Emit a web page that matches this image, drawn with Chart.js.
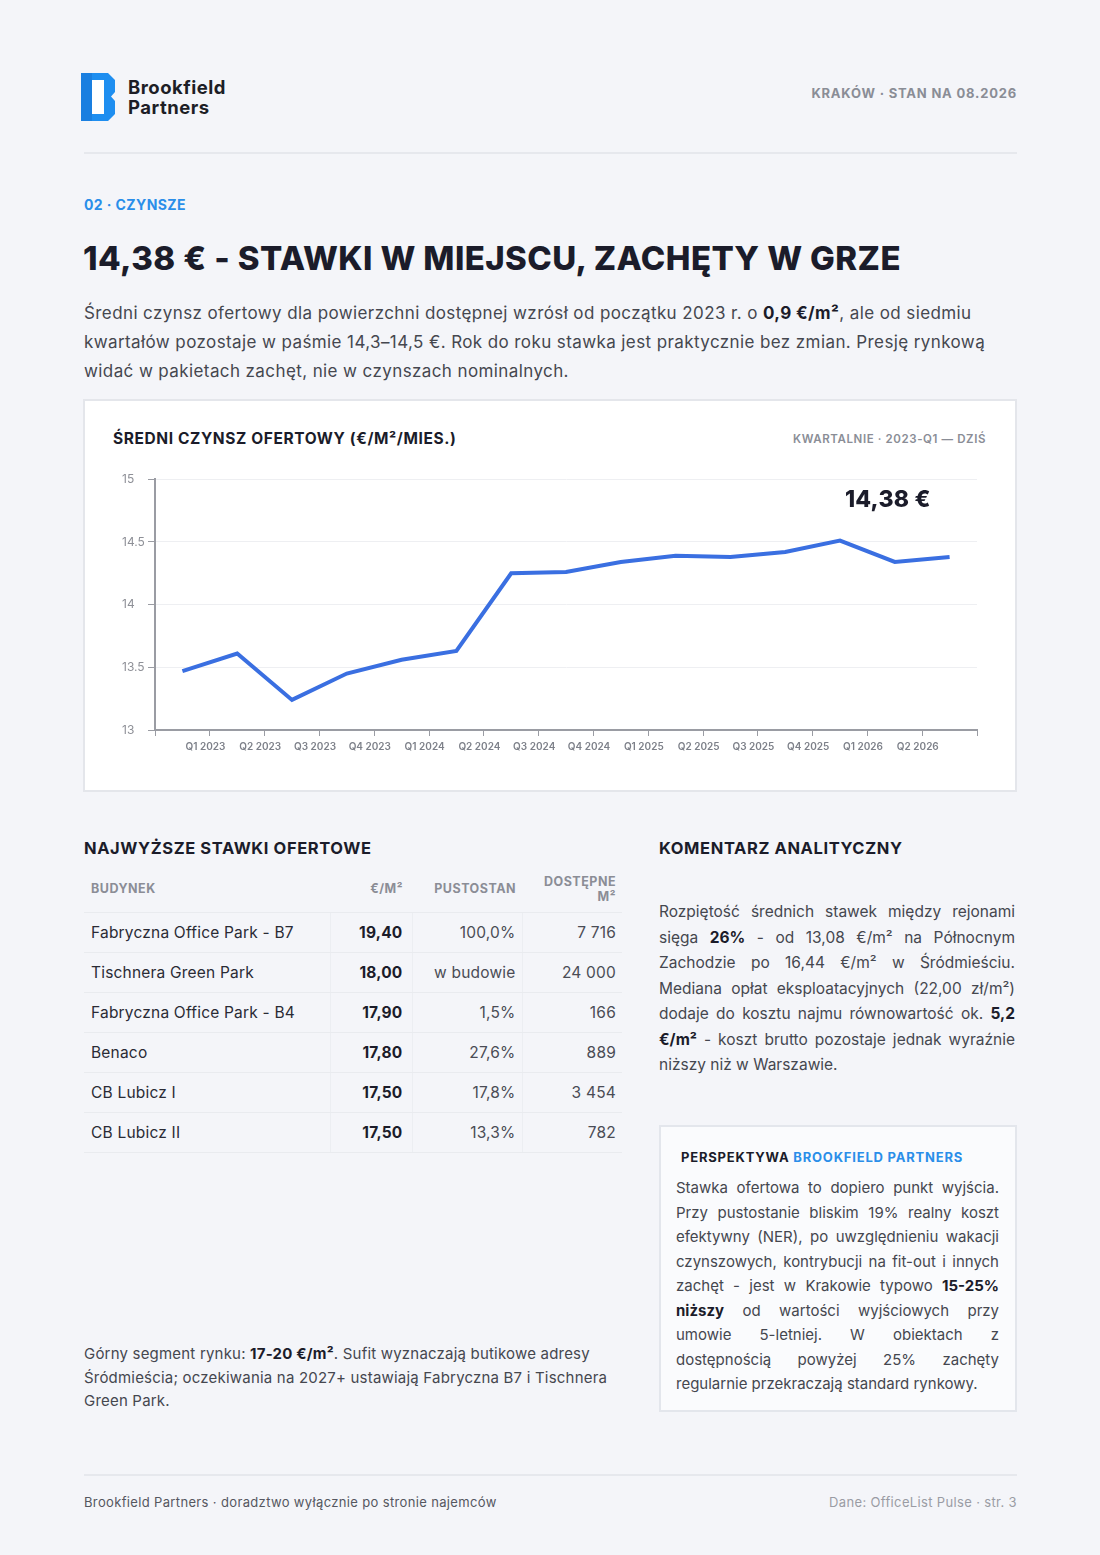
<!DOCTYPE html>
<html lang="pl">
<head>
<meta charset="utf-8">
<title>Brookfield Partners - Czynsze Kraków</title>
<script src="https://cdn.jsdelivr.net/npm/chart.js@4.4.0/dist/chart.umd.min.js"></script>
<style>
  * { box-sizing: border-box; margin: 0; padding: 0; }
  body {
    width: 1100px; height: 1555px; position: relative; overflow: hidden;
    background: #f4f5f9; font-family: "Inter", "Noto Sans", sans-serif; color: #2a2b35;
  }
  .abs { position: absolute; }
  .logo-text { left: 128px; font-size: 18.5px; font-weight: 700; line-height: 18px; color: #1d1e26; letter-spacing: 0.5px; }
  .head-right { right: 83px; top: 85px; font-size: 13px; font-weight: 700; color: #8a8d96; letter-spacing: 0.8px; }
  .rule { left: 84px; width: 933px; height: 2px; background: #e6e8ed; }
  .kicker { left: 84px; top: 196px; font-size: 14px; font-weight: 700; color: #2a8ee9; letter-spacing: 0.4px; }
  h1 { position: absolute; left: 83px; top: 238px; font-size: 33px; font-weight: 800; color: #1b1c2a; letter-spacing: 0.4px; white-space: nowrap; }
  .lead { left: 84px; top: 299px; font-size: 17px; line-height: 29px; color: #45474f; white-space: nowrap; letter-spacing: 0.4px; }
  .lead b { color: #1b1c2a; }
  .card { left: 83px; top: 399px; width: 934px; height: 393px; background: #fff; border: 2px solid #e4e6eb; }
  .card-title { left: 113px; top: 429px; font-size: 15.5px; font-weight: 700; color: #1b1c2a; letter-spacing: 0.6px; }
  .card-sub { right: 114px; top: 432px; font-size: 11.5px; font-weight: 600; color: #8a8d96; letter-spacing: 0.6px; }
  .big-value { left: 845px; top: 485px; font-size: 23px; font-weight: 800; color: #1b1c2a; letter-spacing: 0.2px; }
  #rentChart { left: 100px; top: 470px; }
  .sec-title { top: 838px; font-size: 16.5px; font-weight: 700; color: #1b1c2a; letter-spacing: 0.6px; }
  table { position: absolute; left: 84px; top: 866px; width: 538px; border-collapse: collapse; table-layout: fixed; }
  th { font-size: 12.5px; font-weight: 700; color: #8b8d96; letter-spacing: 0.5px; height: 46px; text-align: right; padding: 0 6px; line-height: 15px; border-bottom: 1px solid #e9ebef; }
  th:first-child { text-align: left; padding-left: 7px; }
  td { font-size: 15.5px; height: 40px; text-align: right; padding: 0 6px; color: #4a4c55; border-bottom: 1px solid #e9ebef; border-left: 1px solid #eceef2; letter-spacing: 0.2px; }
  td:first-child { text-align: left; padding-left: 7px; color: #2a2b35; border-left: none; }
  td.rate { font-weight: 700; color: #1b1c2a; padding-right: 9px; }
  th.rate { padding-right: 9px; }
  .note { left: 84px; top: 1342px; font-size: 15px; line-height: 23.5px; color: #45474f; white-space: nowrap; letter-spacing: 0.2px; }
  .note b { color: #1b1c2a; }
  .just span { display: block; text-align: justify; text-align-last: justify; white-space: nowrap; }
  .just span.last { text-align-last: left; }
  .comment { left: 659px; top: 899px; width: 356px; font-size: 15.5px; line-height: 25.5px; color: #45474f; }
  .comment b, .persp b { color: #1b1c2a; }
  .persp-box { left: 659px; top: 1125px; width: 358px; height: 287px; background: #fafbfd; border: 2px solid #e3e6ec; }
  .persp-title { left: 681px; top: 1149px; font-size: 13px; font-weight: 700; color: #1b1c2a; letter-spacing: 0.8px; }
  .persp-title span { color: #2a8ee9; }
  .persp { left: 676px; top: 1176px; width: 323px; font-size: 15px; line-height: 24.5px; color: #45474f; }
  .foot { top: 1494px; font-size: 13px; letter-spacing: 0.35px; }
</style>
</head>
<body>

<!-- header -->
<svg class="abs" style="left:81px;top:73px" width="35" height="48" viewBox="0 0 35 48">
  <path d="M0 0 H27 L34 7 V19 L30 23.5 L34 28 V41 L27 48 H0 Z" fill="#1e8ef0"/>
  <path d="M0 0 H11 V48 H0 Z" fill="#1a7fe0"/>
  <rect x="11" y="7" width="12" height="34" fill="#ffffff"/>
</svg>
<div class="abs logo-text" style="top:78px">Brookfield</div>
<div class="abs logo-text" style="top:98px">Partners</div>
<div class="abs head-right">KRAKÓW · STAN NA 08.2026</div>
<div class="abs rule" style="top:152px"></div>

<div class="abs kicker">02 · CZYNSZE</div>
<h1>14,38 € - STAWKI W MIEJSCU, ZACHĘTY W GRZE</h1>
<div class="abs lead">
  Średni czynsz ofertowy dla powierzchni dostępnej wzrósł od początku 2023 r. o <b>0,9 €/m²</b>, ale od siedmiu<br>
  kwartałów pozostaje w paśmie 14,3–14,5 €. Rok do roku stawka jest praktycznie bez zmian. Presję rynkową<br>
  widać w pakietach zachęt, nie w czynszach nominalnych.
</div>

<!-- chart card -->
<div class="abs card"></div>
<div class="abs card-title">ŚREDNI CZYNSZ OFERTOWY (€/M²/MIES.)</div>
<div class="abs card-sub">KWARTALNIE · 2023-Q1 — DZIŚ</div>
<canvas id="rentChart" class="abs" width="890" height="290"></canvas>
<div class="abs big-value" id="bigValue">14,38 €</div>

<!-- table -->
<div class="abs sec-title" style="left:84px">NAJWYŻSZE STAWKI OFERTOWE</div>
<table id="topTable">
  <colgroup><col style="width:246px"><col style="width:82px"><col style="width:110px"><col style="width:100px"></colgroup>
  <thead><tr><th>BUDYNEK</th><th class="rate">€/M²</th><th>PUSTOSTAN</th><th>DOSTĘPNE<br>M²</th></tr></thead>
  <tbody></tbody>
</table>
<div class="abs note">
  Górny segment rynku: <b>17-20 €/m²</b>. Sufit wyznaczają butikowe adresy<br>
  Śródmieścia; oczekiwania na 2027+ ustawiają Fabryczna B7 i Tischnera<br>
  Green Park.
</div>

<!-- commentary -->
<div class="abs sec-title" style="left:659px">KOMENTARZ ANALITYCZNY</div>
<div class="abs comment just">
  <span>Rozpiętość średnich stawek między rejonami</span>
  <span>sięga <b>26%</b> - od 13,08 €/m² na Północnym</span>
  <span>Zachodzie po 16,44 €/m² w Śródmieściu.</span>
  <span>Mediana opłat eksploatacyjnych (22,00 zł/m²)</span>
  <span>dodaje do kosztu najmu równowartość ok. <b>5,2</b></span>
  <span><b>€/m²</b> - koszt brutto pozostaje jednak wyraźnie</span>
  <span class="last">niższy niż w Warszawie.</span>
</div>

<div class="abs persp-box"></div>
<div class="abs persp-title">PERSPEKTYWA <span>BROOKFIELD PARTNERS</span></div>
<div class="abs persp just">
  <span>Stawka ofertowa to dopiero punkt wyjścia.</span>
  <span>Przy pustostanie bliskim 19% realny koszt</span>
  <span>efektywny (NER), po uwzględnieniu wakacji</span>
  <span>czynszowych, kontrybucji na fit-out i innych</span>
  <span>zachęt - jest w Krakowie typowo <b>15-25%</b></span>
  <span><b>niższy</b> od wartości wyjściowych przy</span>
  <span>umowie 5-letniej. W obiektach z</span>
  <span>dostępnością powyżej 25% zachęty</span>
  <span class="last">regularnie przekraczają standard rynkowy.</span>
</div>

<!-- footer -->
<div class="abs rule" style="top:1474px"></div>
<div class="abs foot" style="left:84px;color:#55575f">Brookfield Partners · doradztwo wyłącznie po stronie najemców</div>
<div class="abs foot" style="right:83px;color:#9a9ca4">Dane: OfficeList Pulse · str. 3</div>

<script>
// chart data - average asking rent, EUR/m2/month, quarterly
const quarters = ['Q1 2023', 'Q2 2023', 'Q3 2023', 'Q4 2023', 'Q1 2024', 'Q2 2024', 'Q3 2024', 'Q4 2024',
                  'Q1 2025', 'Q2 2025', 'Q3 2025', 'Q4 2025', 'Q1 2026', 'Q2 2026', ''];
const rentEurM2 = [13.47, 13.61, 13.24, 13.45, 13.56, 13.63, 14.25, 14.26,
                   14.34, 14.39, 14.38, 14.42, 14.51, 14.34, 14.38];
const yMin = 13;
const yMax = 15;
const yStep = 0.5;

// table data
const buildings = ['Fabryczna Office Park - B7', 'Tischnera Green Park', 'Fabryczna Office Park - B4', 'Benaco', 'CB Lubicz I', 'CB Lubicz II'];
const topRates = ['19,40', '18,00', '17,90', '17,80', '17,50', '17,50'];
const vacancy = ['100,0%', 'w budowie', '1,5%', '27,6%', '17,8%', '13,3%'];
const availableM2 = ['7 716', '24 000', '166', '889', '3 454', '782'];

// fill the table
const tbody = document.querySelector('#topTable tbody');
buildings.forEach((name, i) => {
    const tr = document.createElement('tr');
    tr.innerHTML = '<td>' + name + '</td><td class="rate">' + topRates[i] + '</td><td>' + vacancy[i] + '</td><td>' + availableM2[i] + '</td>';
    tbody.appendChild(tr);
});

// last value shown top right
document.getElementById('bigValue').textContent =
    rentEurM2[rentEurM2.length - 1].toFixed(2).replace('.', ',') + ' €';

const axisColor = '#9a9ca3';
const fontFamily = '"Inter", "Noto Sans", sans-serif';

new Chart(document.getElementById('rentChart').getContext('2d'), {
    type: 'line',
    data: {
        labels: quarters,
        datasets: [{
            label: 'Średni czynsz ofertowy',
            data: rentEurM2,
            borderColor: '#3a6fe1',
            borderWidth: 4,
            pointRadius: 0,
            tension: 0,
            fill: false
        }]
    },
    options: {
        responsive: false,
        animation: false,
        devicePixelRatio: 1,
        layout: { padding: { left: 22, right: 13, top: 8, bottom: 0 } },
        plugins: { legend: { display: false }, tooltip: { enabled: false } },
        scales: {
            x: {
                offset: true,
                grid: { offset: true, drawOnChartArea: false, tickLength: 6, tickColor: axisColor },
                border: { color: axisColor, width: 2 },
                ticks: {
                    color: '#7d8089', autoSkip: false, maxRotation: 0, padding: 5, labelOffset: 23,
                    font: { family: fontFamily, size: 10, weight: '600' }
                },
                afterFit: s => { s.height = 30; }
            },
            y: {
                min: yMin,
                max: yMax,
                grid: { color: '#eeeff2', tickColor: axisColor, tickLength: 7 },
                border: { color: axisColor, width: 2 },
                ticks: {
                    stepSize: yStep, crossAlign: 'far', padding: 2, color: '#8e9097',
                    font: { family: fontFamily, size: 12 },
                    callback: v => String(v)
                },
                afterFit: s => { s.width = 33; }
            }
        }
    }
});
</script>
</body>
</html>
